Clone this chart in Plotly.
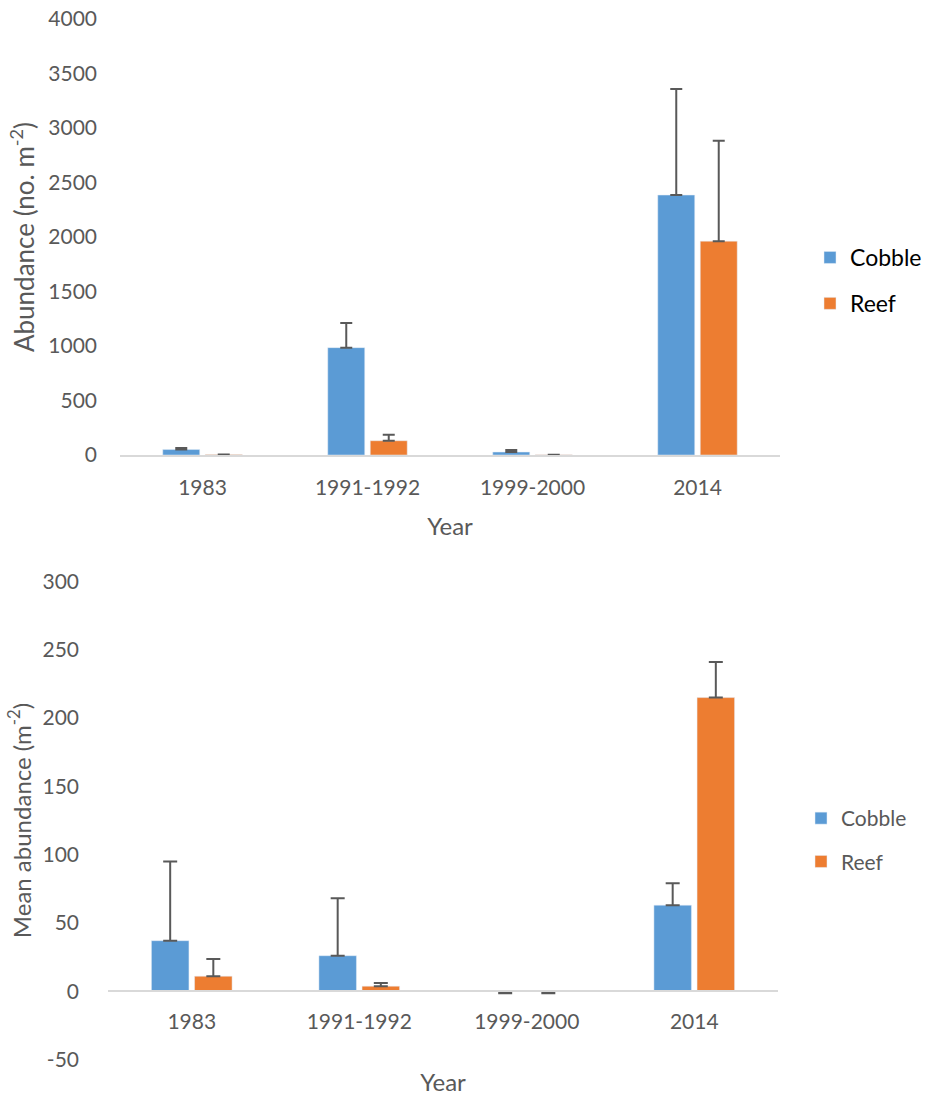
import plotly.graph_objects as go

years = ["1983", "1991-1992", "1999-2000", "2014"]

# Top panel: abundance (no. m^-2)
top_cobble = [50, 985, 27, 2385]
top_cobble_err = [15, 225, 18, 973]
top_reef = [4, 131, 3, 1962]
top_reef_err = [None, 55, None, 920]

# Bottom panel: mean abundance (m^-2)
bot_cobble = [37, 26, 0, 63]
bot_cobble_err = [58, 42, 0, 16]
bot_cobble_err_minus = [0, 0, 1.5, 0]
bot_reef = [11, 3.7, 0, 215]
bot_reef_err = [12.5, 2.3, 0, 26]
bot_reef_err_minus = [0, 0, 1.5, 0]

top_ticks = [0, 500, 1000, 1500, 2000, 2500, 3000, 3500, 4000]
bot_ticks = [-50, 0, 50, 100, 150, 200, 250, 300]
bot_tick_text = ["-50", "0", "50", "100", "150", "200", "250", "300"]

BLUE = "#5B9BD5"
ORANGE = "#ED7D31"
GREY = "#595959"
LINE = "#D9D9D9"
FONT = "Lato"

fig = go.Figure()

def err(arr, minus=None, w=6):
    d = dict(type="data", array=arr, color=GREY, thickness=2, width=w, visible=True,
             symmetric=False)
    d["arrayminus"] = minus if minus is not None else [0] * len(arr)
    return d

fig.add_trace(go.Bar(x=years, y=top_cobble, name="Cobble", marker_color=BLUE,
                     error_y=err(top_cobble_err), xaxis="x", yaxis="y",
                     legend="legend", legendgroup="a"))
fig.add_trace(go.Bar(x=years, y=top_reef, name="Reef", marker_color=ORANGE,
                     error_y=err(top_reef_err), xaxis="x", yaxis="y",
                     legend="legend", legendgroup="b"))
fig.add_trace(go.Bar(x=years, y=bot_cobble, name="Cobble", marker_color=BLUE,
                     error_y=err(bot_cobble_err, bot_cobble_err_minus, 7), xaxis="x2", yaxis="y2",
                     legend="legend2", legendgroup="c"))
fig.add_trace(go.Bar(x=years, y=bot_reef, name="Reef", marker_color=ORANGE,
                     error_y=err(bot_reef_err, bot_reef_err_minus, 7), xaxis="x2", yaxis="y2",
                     legend="legend2", legendgroup="d"))

W, H = 928, 1096

fig.update_layout(
    width=W, height=H,
    margin=dict(l=0, r=0, t=0, b=0, autoexpand=False),
    paper_bgcolor="white", plot_bgcolor="white",
    font=dict(family=FONT, size=21, color=GREY),
    barmode="group", bargap=0.485, bargroupgap=0.13,
    xaxis=dict(domain=[120 / W, 780 / W], anchor="y", showline=True, linecolor=LINE,
               linewidth=1.5, showgrid=False, ticks="", ticklabelstandoff=13, automargin=False,
               tickfont=dict(size=21, color=GREY),
               title=dict(text="Year", font=dict(size=24, color=GREY), standoff=20)),
    yaxis=dict(domain=[1 - 455 / H, 1 - 19 / H], anchor="x", range=[0, 4000],
               tickvals=top_ticks, automargin=False,
               showgrid=False, zeroline=False, showline=False, ticks="", ticklabelstandoff=22,
               tickfont=dict(size=21, color=GREY),
               title=dict(text="Abundance (no. m<sup>-2</sup>)", font=dict(size=26, color=GREY),
                          standoff=6)),
    xaxis2=dict(domain=[108 / W, 778 / W], anchor="free", position=1 - 991 / H,
                showline=True, linecolor=LINE, linewidth=1.5, showgrid=False, ticks="",
                automargin=False,
                ticklabelstandoff=12, tickfont=dict(size=21, color=GREY),
                title=dict(text="Year", font=dict(size=24, color=GREY), standoff=42)),
    yaxis2=dict(domain=[1 - 1059.5 / H, 1 - 581.5 / H], anchor="x2", range=[-50, 300],
                tickvals=bot_ticks, ticktext=bot_tick_text, automargin=False,
                showgrid=False, zeroline=False, showline=False, ticks="", ticklabelstandoff=28,
                tickfont=dict(size=21, color=GREY),
                title=dict(text="Mean abundance (m<sup>-2</sup>)", font=dict(size=24, color=GREY),
                           standoff=4)),
    legend=dict(x=810 / W, y=1 - 236 / H, xanchor="left", yanchor="top",
                font=dict(size=23, color="black"), tracegroupgap=13,
                bgcolor="rgba(0,0,0,0)"),
    legend2=dict(x=801 / W, y=1 - 798 / H, xanchor="left", yanchor="top",
                 font=dict(size=21, color=GREY), tracegroupgap=13,
                 bgcolor="rgba(0,0,0,0)"),
)

fig.write_html("out.html", config={"responsive": False, "displayModeBar": False},
               post_script="document.body.style.margin='0';document.body.style.overflow='hidden';")
